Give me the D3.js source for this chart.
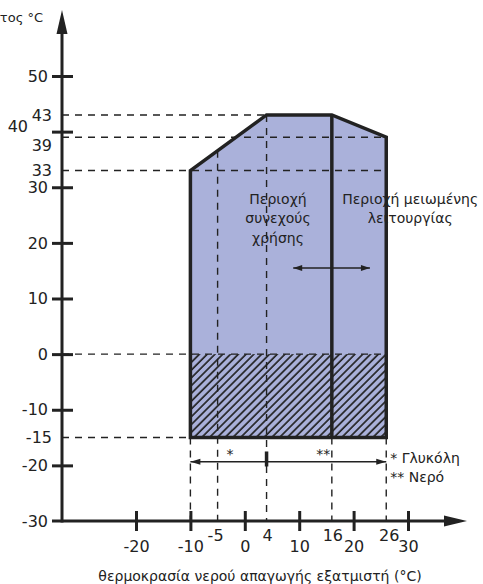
<html>
<head>
<script src="https://d3js.org/d3.v7.min.js"></script>
<style>
	body { margin: 0; background: #fff; }
	text { font-family: "DejaVu Sans", sans-serif; fill: #222; }
</style>
</head>
<body>
<svg id="chart" width="483" height="584"></svg>
<script>
	//Operating envelope (x = evaporator water temp, y = ambient temp)
	var envX = [-10, -10, 4, 16, 26, 26];
	var envY = [-15, 33, 43, 43, 39, -15];
	var splitX = 16;       //continuous / reduced operation border
	var hatchTop = 0;      //hatched zone from bottom of envelope up to here

	//Axis ticks
	var yTicks = [-30, -20, -10, 0, 10, 20, 30, 40, 50];
	var xTicks = [-20, -10, 0, 10, 20, 30];

	//Reference lines and their labels
	var hVals = [43, 39, 33, 0, -15];
	var hEnds = [4, 26, 26, 26, -10];
	var hLabels = ["43", "39", "33", "", "-15"];
	var vVals = [-10, -5, 4, 16, 26];
	var vLabels = ["", "-5", "4", "16", "26"];

	//Texts
	var yTitle = "Θερμοκρασία περιβάλλοντος °C";
	var xTitle = "θερμοκρασία νερού απαγωγής εξατμιστή (°C)";
	var leftText = ["Περιοχή", "συνεχούς", "χρήσης"];
	var rightText = ["Περιοχή μειωμένης", "λειτουργίας"];
	var legendText = ["* Γλυκόλη", "** Νερό"];

	var svg = d3.select("#chart");
	var x = d3.scaleLinear().domain([-20, 30]).range([136, 408]);
	var y = d3.scaleLinear().domain([-30, 50]).range([521, 76]);
	var axisX = 62, axisY = y(-30);
	var ink = "#222";

	//hatch pattern
	var defs = svg.append("defs");
	defs.append("pattern").attr("id", "hatch").attr("patternUnits", "userSpaceOnUse")
		.attr("width", 5.5).attr("height", 6).attr("patternTransform", "rotate(45)")
		.append("line").attr("x1", 1).attr("y1", 0).attr("x2", 1).attr("y2", 6)
		.attr("stroke", ink).attr("stroke-width", 1.7);

	var pts = envX.map(function (d, i) { return [x(d), y(envY[i])]; });
	var line = d3.line();

	//envelope fill
	svg.append("path").attr("d", line(pts) + "Z").attr("fill", "#aab1da");

	//hatched zone
	svg.append("rect")
		.attr("x", x(d3.min(envX))).attr("y", y(hatchTop))
		.attr("width", x(d3.max(envX)) - x(d3.min(envX)))
		.attr("height", y(d3.min(envY)) - y(hatchTop))
		.attr("fill", "url(#hatch)");

	//dashed horizontals
	svg.selectAll(".hdash").data(hVals).enter().append("line")
		.attr("x1", axisX).attr("x2", function (d, i) { return x(hEnds[i]); })
		.attr("y1", function (d) { return y(d); }).attr("y2", function (d) { return y(d); })
		.attr("stroke", ink).attr("stroke-width", 1.4).attr("stroke-dasharray", "7,6");

	//dashed verticals (top = envelope edge or bottom of envelope)
	function topOf(v) {
		if (v === -5) return envY[1] + (envY[2] - envY[1]) * (v - envX[1]) / (envX[2] - envX[1]);
		if (v === 4) return 43;
		return d3.min(envY);
	}
	svg.selectAll(".vdash").data(vVals).enter().append("line")
		.attr("x1", function (d) { return x(d); }).attr("x2", function (d) { return x(d); })
		.attr("y1", function (d) { return y(topOf(d)); }).attr("y2", axisY)
		.attr("stroke", ink).attr("stroke-width", 1.4).attr("stroke-dasharray", "7,6");

	//envelope outline + split line
	svg.append("path").attr("d", line(pts) + "Z").attr("fill", "none")
		.attr("stroke", ink).attr("stroke-width", 3.5).attr("stroke-linejoin", "miter");
	svg.append("line").attr("x1", x(splitX)).attr("x2", x(splitX))
		.attr("y1", y(43)).attr("y2", y(-15)).attr("stroke", ink).attr("stroke-width", 3.5);

	//arrow helper
	function arrowHead(g, tx, ty, dir, len, half) {
		g.append("path")
			.attr("d", "M" + tx + "," + ty + "L" + (tx - dir * len) + "," + (ty - half) + "L" + (tx - dir * len) + "," + (ty + half) + "Z")
			.attr("fill", ink);
	}

	//inner double arrow
	var ga = svg.append("g");
	var ay = y(15.5);
	ga.append("line").attr("x1", x(8.9)).attr("x2", x(23)).attr("y1", ay).attr("y2", ay)
		.attr("stroke", ink).attr("stroke-width", 1.5);
	arrowHead(ga, x(8.9), ay, -1, 9, 3);
	arrowHead(ga, x(23), ay, 1, 9, 3);

	//bottom double arrow
	var by = y(-19.35);
	ga.append("line").attr("x1", x(-10)).attr("x2", x(26)).attr("y1", by).attr("y2", by)
		.attr("stroke", ink).attr("stroke-width", 1.5);
	arrowHead(ga, x(-10), by, -1, 10, 3);
	arrowHead(ga, x(26), by, 1, 10, 3);
	ga.append("line").attr("x1", x(4)).attr("x2", x(4)).attr("y1", y(-17.5)).attr("y2", y(-20.2))
		.attr("stroke", ink).attr("stroke-width", 3.5);
	ga.append("text").attr("x", x(-2.7)).attr("y", by - 3).attr("text-anchor", "middle")
		.style("font-size", "14px").text("*");
	ga.append("text").attr("x", x(14.4)).attr("y", by - 3).attr("text-anchor", "middle")
		.style("font-size", "14px").text("**");

	//legend
	svg.selectAll(".legend").data(legendText).enter().append("text")
		.attr("x", x(26) + 4).attr("y", function (d, i) { return by + 1 + i * 19; })
		.style("font-size", "14px").text(function (d) { return d; });

	//region texts
	svg.selectAll(".lt").data(leftText).enter().append("text")
		.attr("x", x(6.1)).attr("y", function (d, i) { return y(27.9) + 5 + i * 19.5; })
		.attr("text-anchor", "middle").style("font-size", "14px").text(function (d) { return d; });
	svg.selectAll(".rt").data(rightText).enter().append("text")
		.attr("x", x(30.4)).attr("y", function (d, i) { return y(27.9) + 5 + i * 19.5; })
		.attr("text-anchor", "middle").style("font-size", "14px").text(function (d) { return d; });

	//y axis
	var yAxis = svg.append("g").attr("transform", "translate(" + axisX + ",0)")
		.call(d3.axisLeft(y).tickValues(yTicks).tickFormat(function (d) { return String(d); })
			.tickSize(10).tickPadding(4));
	yAxis.select(".domain").remove();
	yAxis.selectAll(".tick line").attr("x1", 11).attr("stroke", ink).attr("stroke-width", 3);
	yAxis.selectAll(".tick text").style("font-size", "16px").style("font-family", "DejaVu Sans").attr("fill", ink)
		.attr("transform", function (d) { return d === 40 ? "translate(-20,-5)" : null; });
	yAxis.selectAll(".tick").filter(function (d) { return d === -30; }).select("line").remove();

	//x axis
	var xAxis = svg.append("g").attr("transform", "translate(0," + axisY + ")")
		.call(d3.axisBottom(x).tickValues(xTicks).tickFormat(function (d) { return String(d); })
			.tickSize(10).tickPadding(10));
	xAxis.select(".domain").remove();
	xAxis.selectAll(".tick line").attr("y1", -10).attr("stroke", ink).attr("stroke-width", 3);
	xAxis.selectAll(".tick text").style("font-size", "16px").style("font-family", "DejaVu Sans").attr("fill", ink);

	//axis lines with arrows
	svg.append("line").attr("x1", axisX).attr("x2", axisX).attr("y1", 30).attr("y2", axisY + 1.5)
		.attr("stroke", ink).attr("stroke-width", 3);
	svg.append("line").attr("x1", 52).attr("x2", 448).attr("y1", axisY).attr("y2", axisY)
		.attr("stroke", ink).attr("stroke-width", 3);
	svg.append("path").attr("d", "M" + axisX + ",10L" + (axisX - 5.5) + ",34L" + (axisX + 5.5) + ",34Z").attr("fill", ink);
	arrowHead(svg, 467, axisY, 1, 23, 5.5);

	//extra y labels
	var yOff = { 43: 0, 39: 8, 33: 0, "-15": 0 };
	svg.selectAll(".hl").data(hVals.filter(function (d, i) { return hLabels[i] !== ""; })).enter().append("text")
		.attr("x", 52).attr("y", function (d) { return y(d) + yOff[d]; }).attr("dy", "0.35em")
		.attr("text-anchor", "end").style("font-size", "16px")
		.text(function (d) { return hLabels[hVals.indexOf(d)]; });

	//extra x labels
	svg.selectAll(".vl").data(vVals.filter(function (d, i) { return vLabels[i] !== ""; })).enter().append("text")
		.attr("x", function (d) { return x(d) + (d === 26 ? 3 : d === -5 ? -2 : 1); })
		.attr("y", axisY + 20).attr("text-anchor", "middle").style("font-size", "16px")
		.text(function (d) { return vLabels[vVals.indexOf(d)]; });

	//titles
	svg.append("text").attr("x", 43).attr("y", 22).attr("text-anchor", "end")
		.style("font-size", "13px").text(yTitle);
	svg.append("text").attr("x", 260).attr("y", 581).attr("text-anchor", "middle")
		.style("font-size", "14px").text(xTitle);
</script>
</body>
</html>
